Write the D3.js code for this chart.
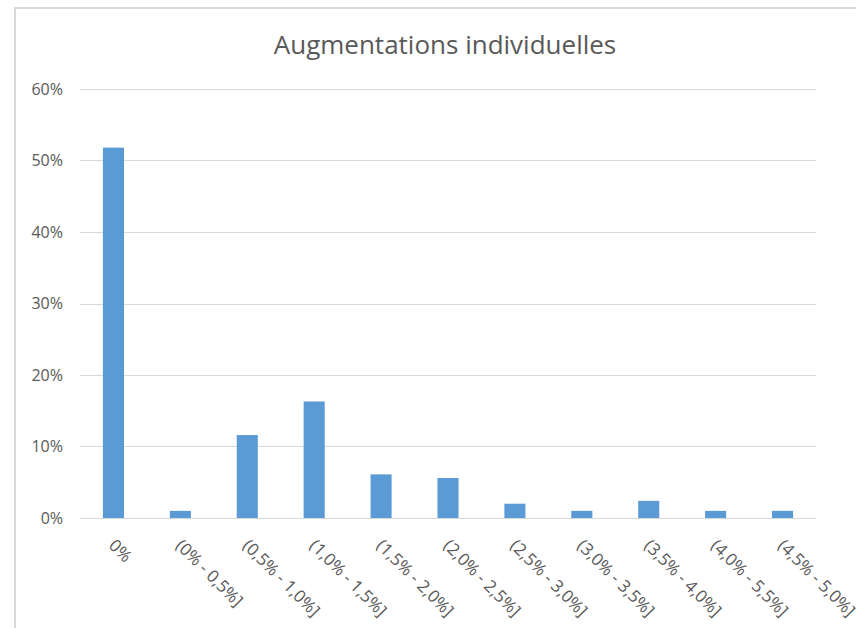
<!DOCTYPE html>
<html>
<head>
<meta charset="utf-8">
<script src="https://cdn.jsdelivr.net/npm/d3@7"></script>
<style>
  body { margin: 0; background: #fff; }
  svg { display: block; }
  .grid line { stroke: #d9d9d9; stroke-width: 1; }
  .axis text { fill: #595959; font-family: "Open Sans", sans-serif; }
</style>
</head>
<body>
<script>
// données
var categories = ["0%", "(0% - 0,5%]", "(0,5% - 1,0%]", "(1,0% - 1,5%]", "(1,5% - 2,0%]",
                  "(2,0% - 2,5%]", "(2,5% - 3,0%]", "(3,0% - 3,5%]", "(3,5% - 4,0%]",
                  "(4,0% - 5,5%]", "(4,5% - 5,0%]"];
var values = [0.518, 0.010, 0.116, 0.163, 0.061, 0.056, 0.020, 0.010, 0.024, 0.010, 0.010];
var yTicks = [0, 0.1, 0.2, 0.3, 0.4, 0.5, 0.6];
var title = "Augmentations individuelles";

var fullWidth = 856, fullHeight = 628;
var margin = {top: 89, right: 40, bottom: 110, left: 80},
    width = 816 - margin.left,
    height = 518 - margin.top;

var svg = d3.select("body").append("svg")
    .attr("width", fullWidth)
    .attr("height", fullHeight);

// cadre
svg.append("rect")
    .attr("x", 15).attr("y", 8)
    .attr("width", fullWidth).attr("height", fullHeight)
    .attr("fill", "none")
    .attr("stroke", "#d9d9d9")
    .attr("stroke-width", 2);

// titre
svg.append("text")
    .attr("x", 445).attr("y", 54)
    .attr("text-anchor", "middle")
    .attr("fill", "#595959")
    .style("font-family", "'Open Sans', sans-serif")
    .style("font-size", "26px")
    .text(title);

var g = svg.append("g")
    .attr("transform", "translate(" + margin.left + "," + margin.top + ")");

var x = d3.scaleBand().domain(categories).range([0, width]).paddingInner(0.685).paddingOuter(0.3425);
var y = d3.scaleLinear().domain([0, 0.6]).range([height, 0]);

// grille
g.append("g")
    .attr("class", "grid")
    .selectAll("line")
    .data(yTicks)
    .join("line")
    .attr("x1", 0).attr("x2", width)
    .attr("y1", d => Math.round(y(d)) + 0.5)
    .attr("y2", d => Math.round(y(d)) + 0.5);

// axe Y
var yAxis = d3.axisLeft(y).tickValues(yTicks).tickFormat(d3.format(".0%")).tickSize(0).tickPadding(17);
g.append("g")
    .attr("class", "y axis")
    .call(yAxis)
    .call(s => s.select(".domain").remove())
    .selectAll("text")
    .style("font-size", "16px");

// barres
g.append("g")
    .selectAll("rect")
    .data(values)
    .join("rect")
    .attr("x", (d, i) => x(categories[i]))
    .attr("y", d => y(d))
    .attr("width", x.bandwidth())
    .attr("height", d => height - y(d))
    .attr("fill", "#5b9bd5");

// axe X (étiquettes inclinées, la dernière est coupée au bord comme dans l'original)
var xAxis = d3.axisBottom(x).tickSize(0).tickPadding(0);
var xg = g.append("g")
    .attr("class", "x axis")
    .attr("transform", "translate(0," + height + ")")
    .call(xAxis);
xg.select(".domain").remove();
xg.selectAll("text")
    .style("font-size", "17px")
    .attr("text-anchor", "start")
    .attr("dy", "0")
    .attr("y", 0)
    .attr("transform", "translate(-1,24) rotate(45)")
    .attr("dominant-baseline", "central");
</script>
</body>
</html>
